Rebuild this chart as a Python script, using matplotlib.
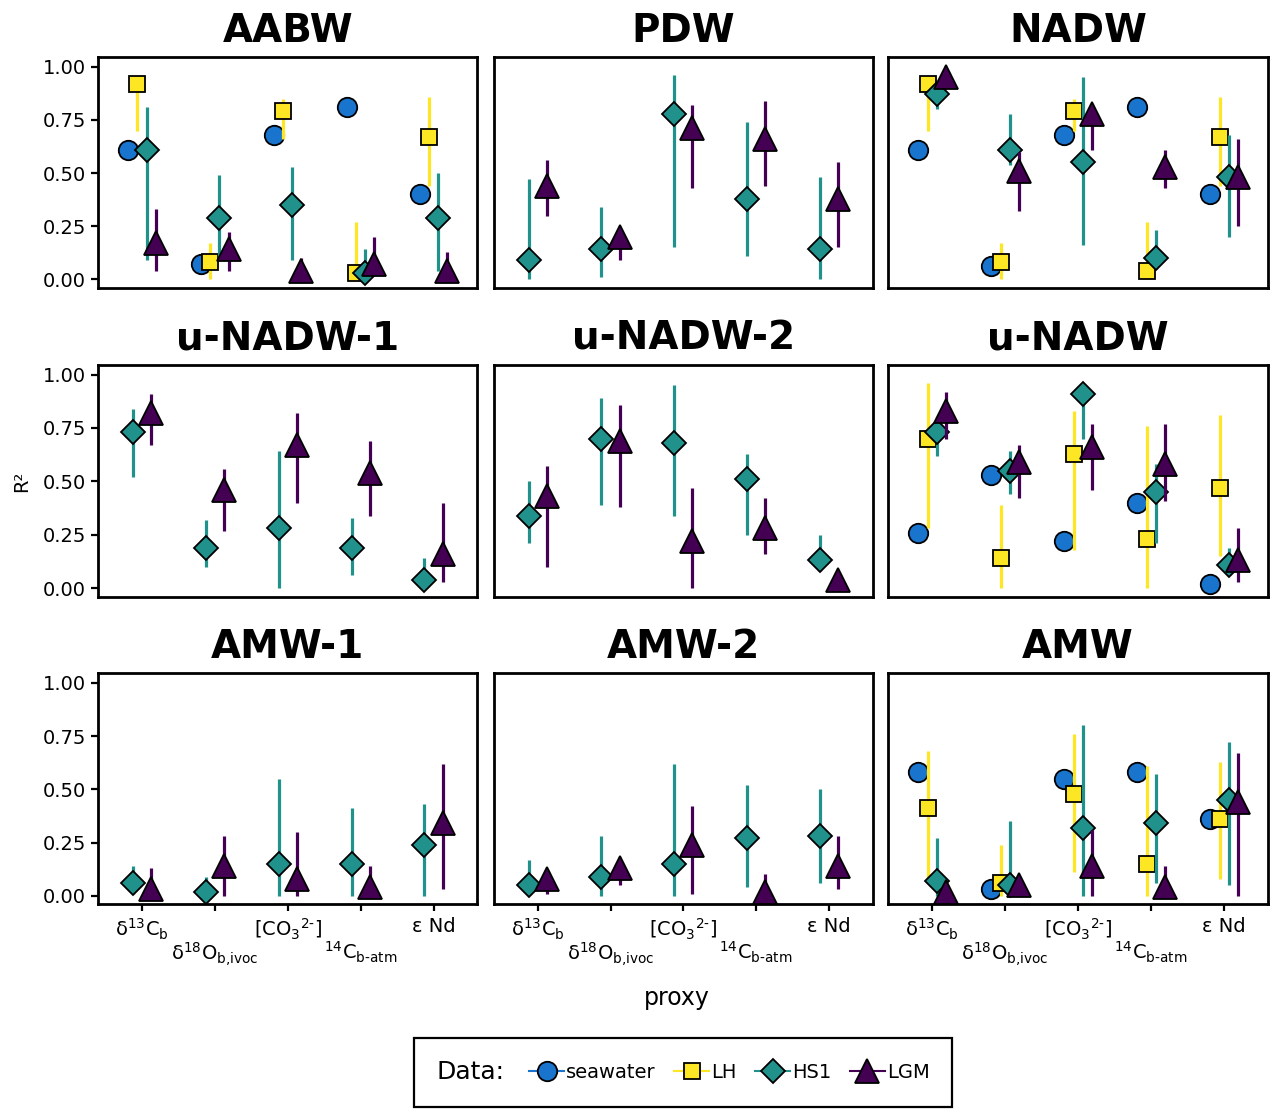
import numpy as np
import matplotlib
matplotlib.use("Agg")
import matplotlib.pyplot as plt
from matplotlib.lines import Line2D
from matplotlib.offsetbox import HPacker

# ---------------------------------------------------------------- data
panels = ["AABW", "PDW", "NADW",
          "u-NADW-1", "u-NADW-2", "u-NADW",
          "AMW-1", "AMW-2", "AMW"]

proxy_labels = [r"δ$^{13}$C$_{\text{b}}$",
                "\n" + r"δ$^{18}$O$_{\text{b,ivoc}}$",
                r"[CO$_3$$^{\text{2-}}$]",
                "\n" + r"$^{14}$C$_{\text{b-atm}}$",
                "ε Nd"]

series = ["seawater", "LH", "HS1", "LGM"]

# R² per panel (rows) and proxy (columns); None = not available
seawater_r2 = [[0.61, 0.07, 0.68, 0.81, 0.40],
               None,
               [0.61, 0.06, 0.68, 0.81, 0.40],
               None,
               None,
               [0.26, 0.53, 0.22, 0.40, 0.02],
               None,
               None,
               [0.58, 0.03, 0.55, 0.58, 0.36]]

lh_r2 = [[0.92, 0.08, 0.79, 0.03, 0.67], None,
         [0.92, 0.08, 0.79, 0.04, 0.67], None, None,
         [0.70, 0.14, 0.63, 0.23, 0.47], None, None,
         [0.41, 0.06, 0.48, 0.15, 0.36]]
lh_lo = [[0.70, 0.00, 0.66, 0.00, 0.44], None,
         [0.70, 0.00, 0.70, 0.00, 0.44], None, None,
         [0.28, 0.00, 0.18, 0.00, 0.15], None, None,
         [0.07, 0.00, 0.11, 0.00, 0.08]]
lh_hi = [[0.93, 0.17, 0.85, 0.27, 0.86], None,
         [0.93, 0.17, 0.85, 0.27, 0.86], None, None,
         [0.96, 0.39, 0.83, 0.76, 0.81], None, None,
         [0.68, 0.24, 0.76, 0.61, 0.63]]

hs1_r2 = [[0.61, 0.29, 0.35, 0.03, 0.29],
          [0.09, 0.14, 0.78, 0.38, 0.14],
          [0.87, 0.61, 0.55, 0.10, 0.48],
          [0.73, 0.19, 0.28, 0.19, 0.04],
          [0.34, 0.70, 0.68, 0.51, 0.13],
          [0.73, 0.55, 0.91, 0.45, 0.11],
          [0.06, 0.02, 0.15, 0.15, 0.24],
          [0.05, 0.09, 0.15, 0.27, 0.28],
          [0.07, 0.05, 0.32, 0.34, 0.45]]
hs1_lo = [[0.09, 0.10, 0.09, 0.00, 0.04],
          [0.00, 0.01, 0.15, 0.11, 0.00],
          [0.80, 0.54, 0.16, 0.05, 0.20],
          [0.52, 0.10, 0.00, 0.06, 0.00],
          [0.21, 0.39, 0.34, 0.25, 0.08],
          [0.62, 0.44, 0.70, 0.21, 0.06],
          [0.01, 0.00, 0.00, 0.00, 0.00],
          [0.01, 0.00, 0.00, 0.04, 0.06],
          [0.00, 0.00, 0.00, 0.06, 0.05]]
hs1_hi = [[0.81, 0.49, 0.53, 0.14, 0.50],
          [0.47, 0.34, 0.96, 0.74, 0.48],
          [0.92, 0.78, 0.95, 0.23, 0.68],
          [0.84, 0.32, 0.64, 0.33, 0.14],
          [0.50, 0.89, 0.95, 0.63, 0.25],
          [0.80, 0.64, 0.96, 0.58, 0.19],
          [0.14, 0.09, 0.55, 0.41, 0.43],
          [0.17, 0.28, 0.62, 0.52, 0.50],
          [0.27, 0.35, 0.80, 0.57, 0.72]]

lgm_r2 = [[0.17, 0.14, 0.04, 0.07, 0.04],
          [0.44, 0.20, 0.71, 0.66, 0.38],
          [0.95, 0.51, 0.78, 0.53, 0.48],
          [0.82, 0.46, 0.67, 0.54, 0.16],
          [0.43, 0.69, 0.22, 0.28, 0.04],
          [0.83, 0.59, 0.66, 0.58, 0.13],
          [0.03, 0.14, 0.08, 0.04, 0.34],
          [0.08, 0.13, 0.24, 0.02, 0.14],
          [0.02, 0.05, 0.14, 0.04, 0.44]]
lgm_lo = [[0.04, 0.04, 0.00, 0.04, 0.00],
          [0.30, 0.09, 0.43, 0.44, 0.15],
          [0.94, 0.32, 0.61, 0.43, 0.25],
          [0.67, 0.27, 0.40, 0.34, 0.03],
          [0.10, 0.38, 0.00, 0.16, 0.00],
          [0.70, 0.42, 0.46, 0.41, 0.03],
          [0.00, 0.00, 0.00, 0.00, 0.03],
          [0.01, 0.05, 0.01, 0.00, 0.03],
          [0.02, 0.05, 0.00, 0.00, 0.00]]
lgm_hi = [[0.33, 0.22, 0.10, 0.20, 0.13],
          [0.56, 0.24, 0.82, 0.84, 0.55],
          [0.97, 0.60, 0.82, 0.61, 0.66],
          [0.91, 0.56, 0.82, 0.69, 0.40],
          [0.57, 0.86, 0.47, 0.42, 0.05],
          [0.92, 0.67, 0.77, 0.77, 0.28],
          [0.13, 0.28, 0.30, 0.14, 0.62],
          [0.10, 0.17, 0.42, 0.10, 0.28],
          [0.02, 0.05, 0.31, 0.14, 0.67]]

yticks = [0.00, 0.25, 0.50, 0.75, 1.00]

# ---------------------------------------------------------------- style
colors = {"seawater": "#1874cd", "LH": "#fde725", "HS1": "#21918c", "LGM": "#440154"}
markers = {"seawater": "o", "LH": "s", "HS1": "D", "LGM": "^"}
msizes = {"seawater": 14, "LH": 12, "HS1": 12, "LGM": 17}

values = {"seawater": (seawater_r2, None, None),
          "LH": (lh_r2, lh_lo, lh_hi),
          "HS1": (hs1_r2, hs1_lo, hs1_hi),
          "LGM": (lgm_r2, lgm_lo, lgm_hi)}

W, H = 1271, 1111
fig = plt.figure(figsize=(W / 100, H / 100), dpi=100)

col_x = [(98.3, 477.3), (494.0, 872.7), (888.3, 1268.0)]
row_y = [(57.3, 287.7), (365.0, 596.7), (673.3, 904.3)]

x = np.arange(len(proxy_labels))
dodge = 0.5

for i, name in enumerate(panels):
    r, c = divmod(i, 3)
    x0, x1 = col_x[c]
    y0, y1 = row_y[r]
    ax = fig.add_axes([x0 / W, 1 - y1 / H, (x1 - x0) / W, (y1 - y0) / H])

    present = [s for s in series if values[s][0][i] is not None]
    n = len(present)
    for k, s in enumerate(present):
        off = (k - (n - 1) / 2) * dodge / n
        r2, lo, hi = values[s]
        v = np.array(r2[i], dtype=float)
        z = 3 + k
        if lo is not None:
            ax.vlines(x + off, lo[i], hi[i], color=colors[s], lw=2.3, zorder=z)
        ax.plot(x + off, v, ls="none", marker=markers[s], ms=msizes[s],
                mfc=colors[s], mec="black", mew=1.3, zorder=z + 0.5)

    ax.set_xlim(-0.6, 4.6)
    ax.set_ylim(-0.04, 1.045)
    ax.set_yticks(yticks)
    ax.set_xticks(x)
    ax.set_title(name, fontsize=28, fontweight="bold", pad=11)
    for sp in ax.spines.values():
        sp.set_linewidth(2.0)

    if c == 0:
        ax.set_yticklabels([f"{t:.2f}" for t in yticks])
        ax.tick_params(axis="y", length=5, width=1.6, labelsize=14, pad=4)
    else:
        ax.set_yticklabels([])
        ax.tick_params(axis="y", length=0)
    if r == 2:
        ax.set_xticklabels(proxy_labels)
        ax.tick_params(axis="x", length=5, width=1.6, labelsize=14, pad=4)
    else:
        ax.set_xticklabels([])
        ax.tick_params(axis="x", length=0)

fig.text(22 / W, 1 - 481 / H, "R²", rotation=90, ha="center", va="center", fontsize=14)
fig.text(677 / W, 1 - 998 / H, "proxy", ha="center", va="center", fontsize=17)

# ---------------------------------------------------------------- legend
handles = [Line2D([], [], color=colors[s], lw=1.5, marker=markers[s],
                  ms=msizes[s], mfc=colors[s], mec="black", mew=1.3)
           for s in series]
leg = fig.legend(handles, series, loc="upper center",
                 bbox_to_anchor=(683 / W, 1 - 1038 / H), ncol=4,
                 fontsize=14, title="Data:", title_fontsize=18,
                 handlelength=1.8, handletextpad=0.1, columnspacing=0.95,
                 borderpad=1.15, borderaxespad=0, fancybox=False,
                 edgecolor="black", framealpha=1)
leg.get_frame().set_linewidth(1.6)
# title inline with the entries
old_box = leg._legend_box
new_box = HPacker(pad=old_box.pad, sep=18, align="center",
                  children=[leg._legend_title_box, leg._legend_handle_box])
new_box.set_figure(fig)
new_box.axes = None
leg._legend_box = new_box
leg._legend_box.set_offset(leg._findoffset)

fig.savefig("out.png", dpi=100)
